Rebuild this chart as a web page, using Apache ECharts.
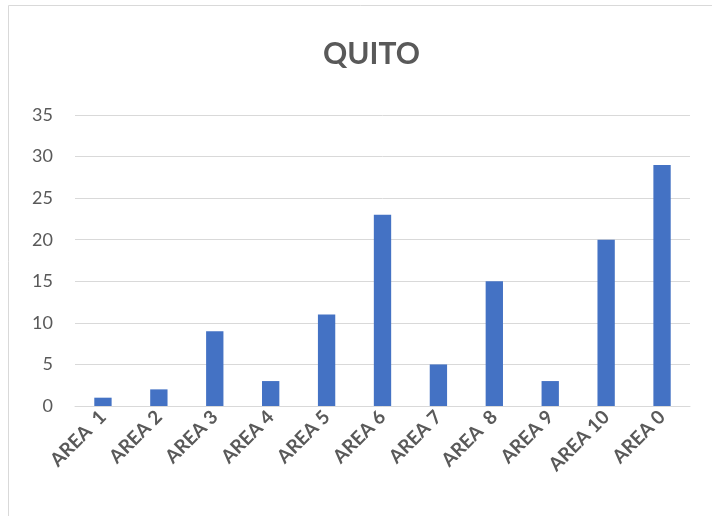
<!DOCTYPE html>
<html>
<head>
    <meta charset="utf-8" />
    <title>QUITO</title>
    <style>
        body { margin: 0; background: #fff; }
        #main { width: 712px; height: 516px; }
    </style>
</head>
<body>
    <div id="main"></div>
<script src="https://cdn.jsdelivr.net/npm/echarts@6/dist/echarts.min.js"></script>
<script type="text/javascript">
    var areas = ['AREA  1', 'AREA 2', 'AREA 3', 'AREA 4', 'AREA 5', 'AREA 6', 'AREA 7', 'AREA  8', 'AREA 9', 'AREA 10', 'AREA 0'];
    var counts = [1, 2, 9, 3, 11, 23, 5, 15, 3, 20, 29];

    var myChart = echarts.init(document.getElementById('main'));
    var font = 'Lato, "Noto Sans", sans-serif';

    var option = {
        animation: false,
        title: {
            text: 'QUITO',
            left: 318,
            top: 34,
            textStyle: { color: '#595959', fontSize: 30, fontWeight: 'bold', fontFamily: font }
        },
        graphic: [{
            type: 'rect',
            shape: { x: 8.5, y: 5.5, width: 720, height: 530 },
            style: { fill: 'none', stroke: '#d9d9d9', lineWidth: 1 },
            silent: true
        }],
        grid: { left: 75, right: 22, top: 115, bottom: 110 },
        xAxis: {
            type: 'category',
            data: areas,
            axisLine: { lineStyle: { color: '#d9d9d9' } },
            axisTick: { show: false },
            axisLabel: {
                interval: 0,
                rotate: 45,
                margin: 8,
                color: '#595959',
                fontSize: 19,
                fontWeight: 'bold',
                fontFamily: font
            }
        },
        yAxis: {
            type: 'value',
            min: 0,
            max: 35,
            interval: 5,
            axisLine: { show: false },
            axisTick: { show: false },
            splitLine: { lineStyle: { color: '#d9d9d9' } },
            axisLabel: { color: '#595959', fontSize: 18, margin: 22, fontFamily: font }
        },
        series: [{
            type: 'bar',
            data: counts,
            barWidth: '31%',
            itemStyle: { color: '#4472c4' }
        }]
    };

    myChart.setOption(option);
</script>
</body>
</html>
